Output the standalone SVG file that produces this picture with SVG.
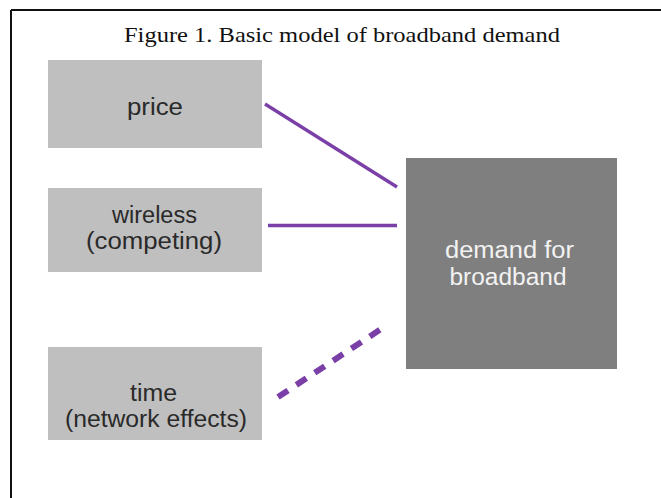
<svg xmlns="http://www.w3.org/2000/svg" width="661" height="498" viewBox="0 0 661 498">
<style>
.light{fill:#bfbfbf}
.dark{fill:#7f7f7f}
.lbl{font-family:"Liberation Sans",Arial,sans-serif;font-size:23px;fill:#2a2a2a;text-anchor:middle}
.lblw{font-family:"Liberation Sans",Arial,sans-serif;font-size:23px;fill:#f2f2f2;text-anchor:middle}
.conn{stroke:#7b40a8;fill:none}
</style>
<rect x="0" y="0" width="661" height="498" fill="#ffffff"/>
<g id="frame">
<line x1="11" y1="10" x2="661" y2="10" stroke="#111" stroke-width="2"/>
<line x1="11" y1="10" x2="11" y2="498" stroke="#111" stroke-width="2"/>
</g>
<text id="title" x="342" y="42" font-family="Liberation Serif,'Times New Roman',serif" font-size="22" fill="#111" text-anchor="middle" textLength="436" lengthAdjust="spacingAndGlyphs">Figure 1. Basic model of broadband demand</text>
<g id="connectors">
<line class="conn" x1="265" y1="104" x2="397" y2="187" stroke-width="3.3"/>
<line class="conn" x1="268" y1="225.5" x2="397" y2="225.5" stroke-width="3.3"/>
<line class="conn" x1="278" y1="397" x2="384" y2="327" stroke-width="6" stroke-dasharray="12 10"/>
</g>
<g id="price">
<rect class="light" x="48" y="60" width="214" height="88"/>
<text class="lbl" x="155" y="115" textLength="56" lengthAdjust="spacingAndGlyphs">price</text>
</g>
<g id="wireless">
<rect class="light" x="48" y="188" width="214" height="84"/>
<text class="lbl" x="154.5" y="223" textLength="85" lengthAdjust="spacingAndGlyphs">wireless</text>
<text class="lbl" x="154" y="249" textLength="136" lengthAdjust="spacingAndGlyphs">(competing)</text>
</g>
<g id="time">
<rect class="light" x="48" y="347" width="214" height="93"/>
<text class="lbl" x="153.5" y="401" textLength="47" lengthAdjust="spacingAndGlyphs">time</text>
<text class="lbl" x="156" y="427" textLength="182" lengthAdjust="spacingAndGlyphs">(network effects)</text>
</g>
<g id="demand">
<rect class="dark" x="406" y="158" width="211" height="211"/>
<text class="lblw" x="509.5" y="258" textLength="129" lengthAdjust="spacingAndGlyphs">demand for</text>
<text class="lblw" x="508" y="285" textLength="117" lengthAdjust="spacingAndGlyphs">broadband</text>
</g>
</svg>
